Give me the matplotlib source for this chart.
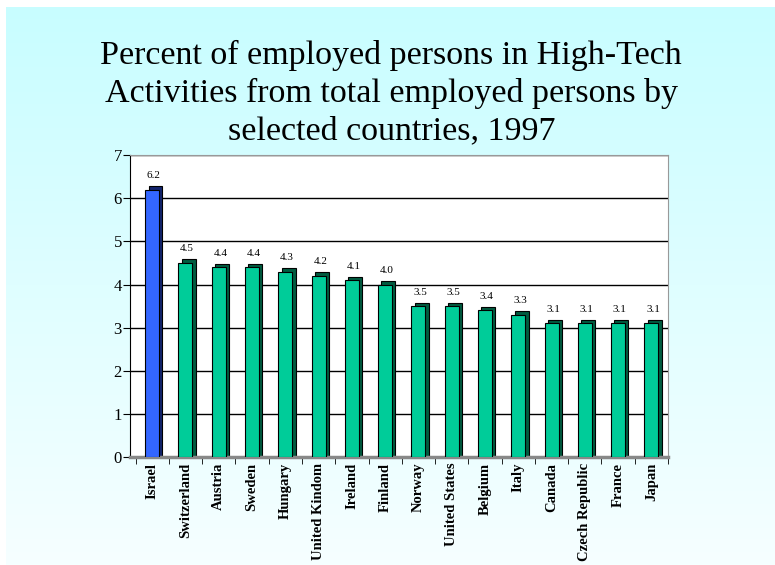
import matplotlib

matplotlib.use("Agg")
import matplotlib.pyplot as plt
import numpy as np

countries = ["Israel", "Switzerland", "Austria", "Sweden", "Hungary", "United Kindom",
             "Ireland", "Finland", "Norway", "United States", "Belgium", "Italy",
             "Canada", "Czech Republic", "France", "Japan"]
values = [6.2, 4.5, 4.4, 4.4, 4.3, 4.2, 4.1, 4.0, 3.5, 3.5, 3.4, 3.3, 3.1, 3.1, 3.1, 3.1]
value_labels = ["6.2", "4.5", "4.4", "4.4", "4.3", "4.2", "4.1", "4.0",
                "3.5", "3.5", "3.4", "3.3", "3.1", "3.1", "3.1", "3.1"]
y_ticks = [0, 1, 2, 3, 4, 5, 6, 7]

title = ("Percent of employed persons in High-Tech\n"
         "Activities from total employed persons by\n"
         "selected countries, 1997")

plt.rcParams["font.family"] = ["Liberation Serif", "DejaVu Serif"]

fig = plt.figure(figsize=(7.75, 5.65), dpi=100)

# background gradient, light cyan to white
bg = fig.add_axes([0.008, 0, 0.992, 0.988])
grad = np.linspace(0, 1, 256).reshape(-1, 1)
cmap = matplotlib.colors.LinearSegmentedColormap.from_list("bg", ["#c8fdff", "#f6ffff"])
bg.imshow(grad, aspect="auto", cmap=cmap, extent=[0, 1, 0, 1], origin="upper")
bg.set_axis_off()

fig.text(0.505, 0.835, title, ha="center", va="center", fontsize=24.5, linespacing=1.28)

ax = fig.add_axes([0.168, 0.191, 0.694, 0.5345])
ax.set_facecolor("white")
x = np.arange(len(countries))
colors = ["#3366ff"] + ["#00cc99"] * (len(countries) - 1)
sides = ["#14246e"] + ["#005c40"] * (len(countries) - 1)

# side/top faces for the 3D look, then the front faces
ax.bar(x + 0.1, [v + 0.08 for v in values], width=0.42, color=sides,
       edgecolor="black", linewidth=0.8, zorder=2)
ax.bar(x, values, width=0.42, color=colors, edgecolor="black", linewidth=0.8, zorder=3)

for xi, v, lab in zip(x, values, value_labels):
    ax.text(xi + 0.05, v + 0.22, lab, ha="center", va="bottom", fontsize=8, zorder=4)

ax.set_ylim(0, 7)
ax.set_xlim(-0.66, 15.39)
ax.set_yticks(y_ticks)
ax.tick_params(axis="y", labelsize=12, length=5, direction="out", pad=1)
ax.yaxis.grid(True, color="black", linewidth=1.0, zorder=1)
ax.set_axisbelow(True)

ax.set_xticks(x)
ax.set_xticklabels(countries, rotation=90, fontsize=10.5, fontweight="bold", va="top")
ax.tick_params(axis="x", length=0, pad=4)
ax.set_xticks(np.arange(-0.5, len(countries), 1), minor=True)
ax.tick_params(axis="x", which="minor", length=5, direction="out")

for side in ["top", "right"]:
    ax.spines[side].set_color("#999999")
ax.spines["left"].set_color("black")
ax.spines["bottom"].set_color("#888888")
ax.spines["bottom"].set_linewidth(2.5)

fig.savefig("out.png", dpi=100)
